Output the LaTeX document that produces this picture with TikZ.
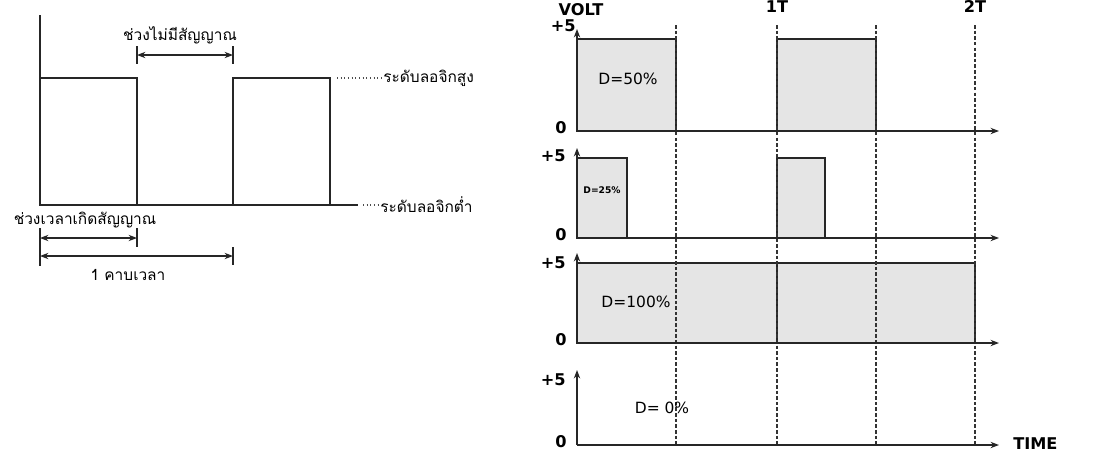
\documentclass[tikz,border=0pt]{standalone}
\usepackage{fontspec}
\setmainfont{DejaVu Sans}
\newfontfamily\thaifont[Script=Thai]{Loma}
\usetikzlibrary{arrows.meta}

\begin{document}
\begin{tikzpicture}[x=0.025cm,y=-0.025cm,
  sig/.style={draw=black!85,line width=1pt},
  axis/.style={draw=black!85,line width=1pt,-{Stealth[length=6pt,width=4.5pt]}},
  tline/.style={draw=black!80,line width=0.9pt,dash pattern=on 2.5pt off 1.5pt},
  dotline/.style={draw=black!70,line width=0.8pt,dash pattern=on 0.8pt off 1.8pt},
  dimline/.style={draw=black!85,line width=0.8pt,{Stealth[length=6pt,width=4.5pt]}-{Stealth[length=6pt,width=4.5pt]}},
  thai/.style={font=\thaifont\fontsize{11}{13}\selectfont,inner sep=0pt},
  lab/.style={font=\bfseries\fontsize{11.5}{13}\selectfont,inner sep=0pt},
  duty/.style={font=\fontsize{11}{13}\selectfont,inner sep=0pt}]
  \useasboundingbox (0,0) rectangle (1099,455);

  % logic levels
  \coordinate (O) at (40,205);
  \coordinate (Otop) at (40,15);
  \coordinate (Oend) at (358,205);
  \draw[sig] (Otop) -- (O) -- (Oend);
  \draw[sig] (O) -- (40,78) -- (137,78) -- (137,205);
  \draw[sig] (233,205) -- (233,78) -- (330,78) -- (330,205);
  \node[thai,anchor=west] (high) at (383,78) {ระดับลอจิกสูง};
  \node[thai,anchor=west] (low) at (380,205) {ระดับลอจิกต่ำ};
  \draw[dotline] (337,78) -- (high.west);
  \draw[dotline] (363,205) -- (low.west);

  \coordinate (g1) at (137,55);
  \coordinate (g2) at (233,55);
  \draw[sig,line width=0.8pt] (137,46) -- (137,64) (233,46) -- (233,64);
  \draw[dimline] (g1) -- (g2);
  \node[thai] (gap) at (180,35) {ช่วงไม่มีสัญญาณ};

  \coordinate (w0) at (40,238);
  \coordinate (w1) at (137,238);
  \coordinate (c0) at (40,256);
  \coordinate (c1) at (233,256);
  \draw[sig,line width=0.8pt] (40,228) -- (40,266) (137,228) -- (137,247) (233,247) -- (233,265);
  \draw[dimline] (w0) -- (w1);
  \draw[dimline] (c0) -- (c1);
  \node[thai] (width) at (85,220) {ช่วงเวลาเกิดสัญญาณ};
  \node[thai] (period) at (128,275) {1 คาบเวลา};

  % duty cycles
  \draw[sig,fill=black!10] (577,131) rectangle (676,39);
  \draw[sig,fill=black!10] (777,131) rectangle (876,39);
  \draw[sig,fill=black!10] (577,238) rectangle (627,158);
  \draw[sig,fill=black!10] (777,238) rectangle (825,158);
  \draw[sig,fill=black!10] (577,343) rectangle (975,263);
  \draw[sig] (777,263) -- (777,343);
  \foreach \x in {676,777,876,975}
    \draw[tline] (\x,25) -- (\x,446);
  \foreach \z/\t/\n in {131/39/a,238/158/b,343/263/c,445/380/d} {
    \coordinate (z\n) at (577,\z);
    \coordinate (y\n) at (577,\t-10);
    \coordinate (e\n) at (999,\z);
    \draw[axis] (z\n) -- (e\n);
    \draw[axis] (z\n) -- (y\n);
    \node[lab,anchor=east] (zero\n) at (567,\z-3) {0};
  }
  \node[lab,anchor=east] (fivea) at (576,26) {+5};
  \foreach \t/\n in {156/b,263/c,380/d}
    \node[lab,anchor=east] (five\n) at (566,\t) {+5};
  \node[lab] (volt) at (581,10) {VOLT};
  \node[lab,anchor=west] (time) at (1013,444) {TIME};
  \node[lab,anchor=north] (T1) at (777,0) {1T};
  \node[lab,anchor=north] (T2) at (975,0) {2T};

  \node[duty] (d50) at (628,79) {D=50\%};
  \node[duty,font=\bfseries\fontsize{6.5}{8}\selectfont] (d25) at (602,190) {D=25\%};
  \node[duty] (d100) at (636,302) {D=100\%};
  \node[duty] (d0) at (662,408) {D= 0\%};
\end{tikzpicture}
\end{document}
